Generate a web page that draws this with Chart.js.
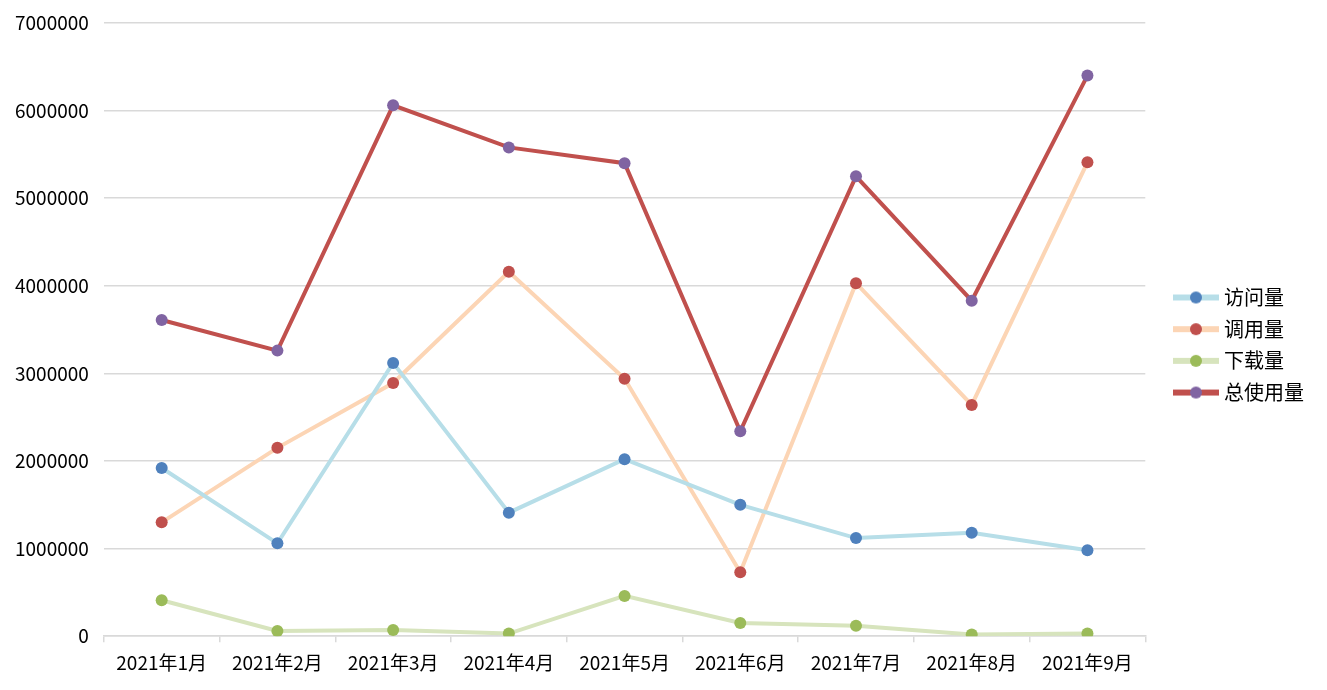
<!DOCTYPE html>
<html>
<head>
<meta charset="utf-8">
<script src="https://cdn.jsdelivr.net/npm/chart.js@4"></script>
<style>
  html, body { margin: 0; padding: 0; background: #fff; }
  #wrap { width: 1327px; height: 690px; }
</style>
</head>
<body>
<div id="wrap"><canvas id="chart"></canvas></div>
<script>
// months on the x axis
const months = ['2021年1月', '2021年2月', '2021年3月', '2021年4月', '2021年5月', '2021年6月', '2021年7月', '2021年8月', '2021年9月'];

// series values
const visits = [1920000, 1060000, 3120000, 1410000, 2020000, 1500000, 1120000, 1180000, 980000];
const calls = [1300000, 2150000, 2890000, 4160000, 2940000, 730000, 4030000, 2640000, 5410000];
const downloads = [410000, 60000, 70000, 30000, 460000, 150000, 120000, 20000, 30000];
const totals = [3610000, 3260000, 6060000, 5580000, 5400000, 2340000, 5250000, 3830000, 6400000];

const yTicks = [0, 1000000, 2000000, 3000000, 4000000, 5000000, 6000000, 7000000];

const FONT = '"Noto Sans CJK SC", "Noto Sans", sans-serif';

// legend symbol: a thick line with a dot in the middle
// (image is wider than the legend box so the symbol sits a bit further right)
function legendIcon(lineColor, dotColor) {
  const c = document.createElement('canvas');
  c.width = 67;
  c.height = 20;
  const g = c.getContext('2d');
  g.strokeStyle = lineColor;
  g.lineWidth = 6;
  g.beginPath();
  g.moveTo(21, 10);
  g.lineTo(67, 10);
  g.stroke();
  g.fillStyle = dotColor;
  g.beginPath();
  g.arc(44, 10, 6, 0, Math.PI * 2);
  g.fill();
  return c;
}

function series(label, values, line, dot) {
  return {
    label: label,
    data: values,
    borderColor: line,
    backgroundColor: dot,
    borderWidth: 4,
    pointRadius: 6,
    pointHoverRadius: 6,
    pointBorderWidth: 0,
    pointBackgroundColor: dot,
    tension: 0,
    icon: legendIcon(line, dot)
  };
}

const datasets = [
  series('访问量', visits, '#b7dee8', '#4f81bd'),
  series('调用量', calls, '#fcd5b5', '#c0504d'),
  series('下载量', downloads, '#d7e4bd', '#9bbb59'),
  series('总使用量', totals, '#c0504d', '#8064a2')
];

// nudge the legend block up a little, it sits slightly above the middle
const legendNudge = {
  id: 'legendNudge',
  afterLayout(chart) {
    chart.legend.top -= 8;
    chart.legend.bottom -= 8;
  }
};

new Chart(document.getElementById('chart'), {
  type: 'line',
  data: { labels: months, datasets: datasets },
  plugins: [legendNudge],
  options: {
    responsive: true,
    maintainAspectRatio: false,
    animation: false,
    layout: { padding: { left: 0, top: 23, right: 13, bottom: 7 } },
    plugins: {
      tooltip: { enabled: false },
      legend: {
        position: 'right',
        labels: {
          usePointStyle: true,
          pointStyleWidth: 57,
          padding: 11.7,
          color: '#000',
          font: { family: FONT, size: 20 },
          generateLabels(chart) {
            return chart.data.datasets.map((ds, i) => ({
              text: ds.label,
              pointStyle: ds.icon,
              fillStyle: ds.backgroundColor,
              strokeStyle: ds.borderColor,
              lineWidth: 0,
              fontColor: '#000',
              hidden: false,
              datasetIndex: i
            }));
          }
        }
      }
    },
    scales: {
      x: {
        offset: true,
        grid: {
          offset: true,
          drawOnChartArea: false,
          drawTicks: true,
          tickLength: 6,
          color: '#d9d9d9',
          lineWidth: 1.5
        },
        border: { color: '#d9d9d9', width: 1.5 },
        ticks: {
          color: '#000',
          padding: 9,
          maxRotation: 0,
          font: { family: FONT, size: 19 }
        }
      },
      y: {
        min: 0,
        max: 7000000,
        afterBuildTicks(scale) {
          scale.ticks = yTicks.map(v => ({ value: v }));
        },
        afterFit(scale) {
          // top label may hang into the padding
          scale.paddingTop = 0;
        },
        grid: { color: '#d9d9d9', lineWidth: 1.5, drawTicks: false },
        border: { display: false },
        ticks: {
          color: '#000',
          padding: 15,
          font: { family: FONT, size: 19 },
          callback: v => String(v)
        }
      }
    }
  }
});
</script>
</body>
</html>
